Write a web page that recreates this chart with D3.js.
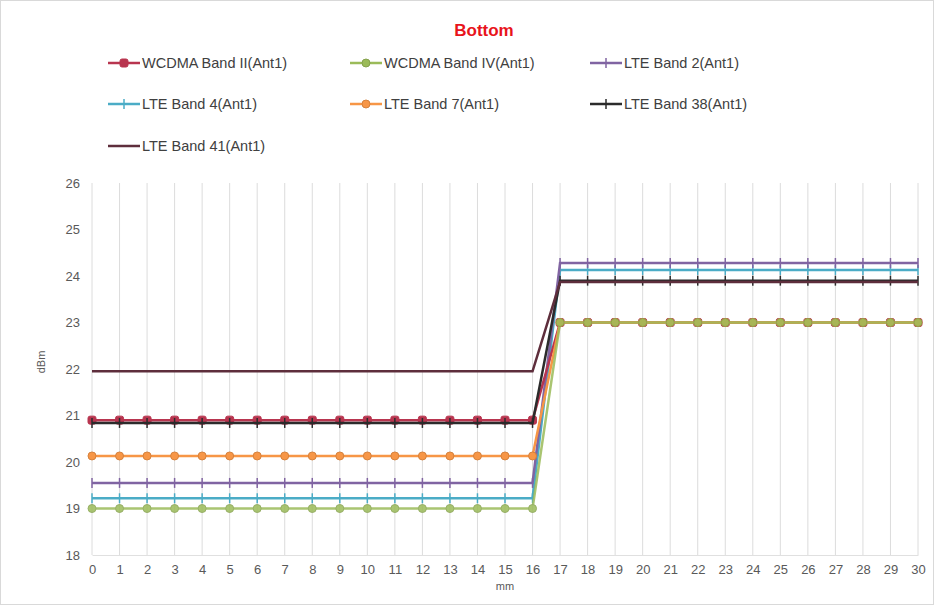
<!DOCTYPE html>
<html><head><meta charset="utf-8">
<script src="https://cdn.jsdelivr.net/npm/d3@7"></script>
<style>body{margin:0;background:#fff}svg{display:block}text{font-family:"Liberation Sans",Arial,sans-serif}</style>
</head><body>
<svg id="c" width="934" height="605"></svg>
<script>
const categories = [0,1,2,3,4,5,6,7,8,9,10,11,12,13,14,15,16,17,18,19,20,21,22,23,24,25,26,27,28,29,30];
const yTicks = [18,19,20,21,22,23,24,25,26];
const seriesNames = ["WCDMA Band II(Ant1)","WCDMA Band IV(Ant1)","LTE Band 2(Ant1)","LTE Band 4(Ant1)","LTE Band 7(Ant1)","LTE Band 38(Ant1)","LTE Band 41(Ant1)"];
const wcdmaBand2 = [20.9,20.9,20.9,20.9,20.9,20.9,20.9,20.9,20.9,20.9,20.9,20.9,20.9,20.9,20.9,20.9,20.9,23.0,23.0,23.0,23.0,23.0,23.0,23.0,23.0,23.0,23.0,23.0,23.0,23.0,23.0];
const wcdmaBand4 = [19.0,19.0,19.0,19.0,19.0,19.0,19.0,19.0,19.0,19.0,19.0,19.0,19.0,19.0,19.0,19.0,19.0,23.0,23.0,23.0,23.0,23.0,23.0,23.0,23.0,23.0,23.0,23.0,23.0,23.0,23.0];
const lteBand2 = [19.55,19.55,19.55,19.55,19.55,19.55,19.55,19.55,19.55,19.55,19.55,19.55,19.55,19.55,19.55,19.55,19.55,24.28,24.28,24.28,24.28,24.28,24.28,24.28,24.28,24.28,24.28,24.28,24.28,24.28,24.28];
const lteBand4 = [19.22,19.22,19.22,19.22,19.22,19.22,19.22,19.22,19.22,19.22,19.22,19.22,19.22,19.22,19.22,19.22,19.22,24.13,24.13,24.13,24.13,24.13,24.13,24.13,24.13,24.13,24.13,24.13,24.13,24.13,24.13];
const lteBand7 = [20.13,20.13,20.13,20.13,20.13,20.13,20.13,20.13,20.13,20.13,20.13,20.13,20.13,20.13,20.13,20.13,20.13,23.0,23.0,23.0,23.0,23.0,23.0,23.0,23.0,23.0,23.0,23.0,23.0,23.0,23.0];
const lteBand38 = [20.84,20.84,20.84,20.84,20.84,20.84,20.84,20.84,20.84,20.84,20.84,20.84,20.84,20.84,20.84,20.84,20.84,23.9,23.9,23.9,23.9,23.9,23.9,23.9,23.9,23.9,23.9,23.9,23.9,23.9,23.9];
const lteBand41 = [21.95,21.95,21.95,21.95,21.95,21.95,21.95,21.95,21.95,21.95,21.95,21.95,21.95,21.95,21.95,21.95,21.95,23.87,23.87,23.87,23.87,23.87,23.87,23.87,23.87,23.87,23.87,23.87,23.87,23.87,23.87];

const seriesValues = [wcdmaBand2, wcdmaBand4, lteBand2, lteBand4, lteBand7, lteBand38, lteBand41];
const colors = ["#B8354F","#9BBB59","#8064A2","#4BACC6","#F79646","#2B2B2B","#5E2E3C"];
const opac = [1,0.85,1,1,1,1,1];
const markers = ["square","circle","tick","tick","circle","tick","none"];
const drawOrder = [3,2,0,4,1,5,6];

const svg = d3.select("#c");
svg.append("rect").attr("x",0.5).attr("y",0.5).attr("width",933).attr("height",604).attr("fill","#fff").attr("stroke","#d9d9d9");

const x = d3.scalePoint().domain(categories).range([92,918]);
const y = d3.scaleLinear().domain([18,26]).range([555,183]);

svg.append("g").selectAll("line").data(categories).join("line")
  .attr("x1",d=>x(d)).attr("x2",d=>x(d)).attr("y1",183).attr("y2",555)
  .attr("stroke","#dcdcdc").attr("stroke-width",1);

const xAxis = svg.append("g").attr("transform","translate(0,555)")
  .call(d3.axisBottom(x).tickSize(0).tickPadding(10));
xAxis.select(".domain").attr("stroke","#e0e0e0");
xAxis.selectAll("text").attr("font-size",13).attr("fill","#595959");

const yAxis = svg.append("g").attr("transform","translate(80,0)")
  .call(d3.axisLeft(y).tickValues(yTicks).tickSize(0).tickPadding(0));
yAxis.select(".domain").remove();
yAxis.selectAll("text").attr("font-size",13).attr("fill","#595959");

svg.append("text").attr("x",505).attr("y",590).attr("text-anchor","middle").attr("font-size",11).attr("fill","#595959").text("mm");
svg.append("text").attr("transform","translate(45,362) rotate(-90)").attr("text-anchor","middle").attr("font-size",11).attr("fill","#595959").text("dBm");

svg.append("text").attr("x",484).attr("y",36).attr("text-anchor","middle").attr("font-size",17).attr("font-weight","bold").attr("fill","#E8141B").text("Bottom");

function drawMarker(g, type, cx, cy, color){
  if(type==="square"){
    g.append("rect").attr("x",cx-4).attr("y",cy-4).attr("width",8).attr("height",8).attr("rx",2).attr("fill",color).attr("stroke",color);
  } else if(type==="circle"){
    g.append("circle").attr("cx",cx).attr("cy",cy).attr("r",4).attr("fill",color).attr("stroke",d3.color(color).darker(0.4)).attr("stroke-width",1);
  } else if(type==="tick"){
    g.append("line").attr("x1",cx).attr("x2",cx).attr("y1",cy-5).attr("y2",cy+5).attr("stroke",color).attr("stroke-width",1.5);
  }
}

const line = d3.line().x((d,i)=>x(categories[i])).y(d=>y(d));
const plot = svg.append("g");
drawOrder.forEach(k=>{
  const g = plot.append("g").attr("opacity",opac[k]);
  g.append("path").attr("d",line(seriesValues[k])).attr("fill","none").attr("stroke",colors[k]).attr("stroke-width",2.5);
  seriesValues[k].forEach((v,i)=>drawMarker(g, markers[k], x(categories[i]), y(v), colors[k]));
});

const legPos = [[108,63],[350,63],[590,63],[108,104],[350,104],[590,104],[108,146]];
seriesNames.forEach((name,k)=>{
  const [lx,ly] = legPos[k];
  const g = svg.append("g");
  g.append("line").attr("x1",lx).attr("x2",lx+32).attr("y1",ly).attr("y2",ly).attr("stroke",colors[k]).attr("stroke-width",2.5);
  drawMarker(g, markers[k], lx+16, ly, colors[k]);
  g.append("text").attr("x",lx+34).attr("y",ly+5).attr("font-size",14.5).attr("fill","#404040").text(name);
});
</script>
</body></html>
